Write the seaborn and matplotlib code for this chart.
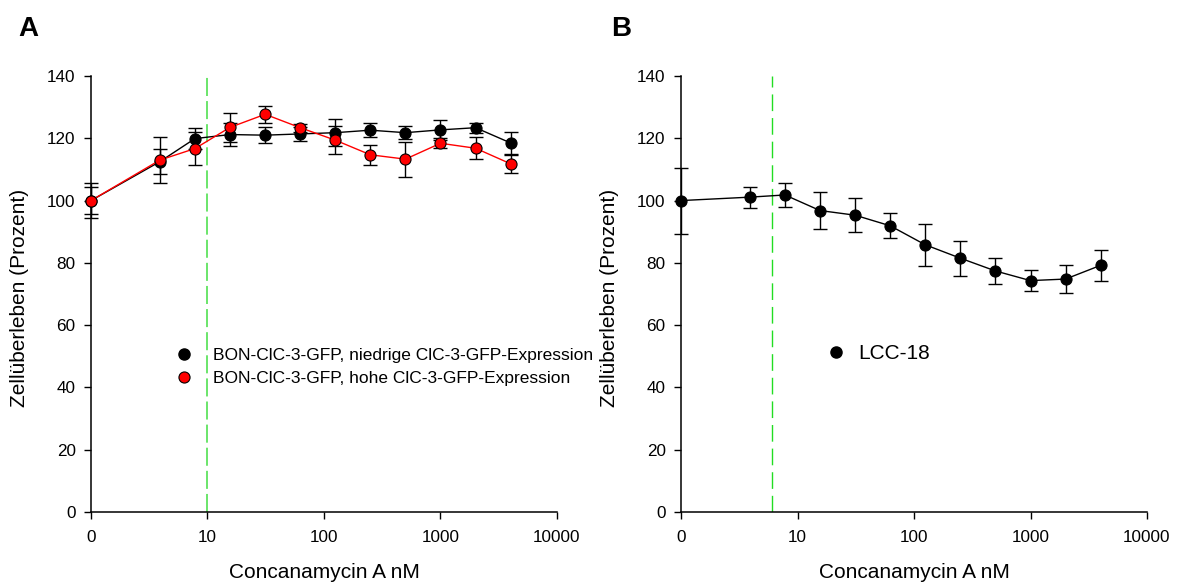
import numpy as np
import pandas as pd
import matplotlib
matplotlib.use("Agg")
import matplotlib.pyplot as plt
import seaborn as sns
from matplotlib.lines import Line2D
from matplotlib.ticker import NullLocator, FixedLocator, FixedFormatter

# ---------------- data ----------------
conc_nM = [0, 3.9, 7.8, 15.6, 31.25, 62.5, 125, 250, 500, 1000, 2000, 4000]

a_low = [100, 112.5, 119.9, 121.2, 121.0, 121.4, 121.8, 122.6, 121.8, 122.7, 123.4, 118.5]
a_low_err = [4.2, 4.0, 3.3, 3.6, 2.6, 2.2, 4.3, 2.2, 2.0, 3.2, 1.6, 3.5]
a_high = [100, 113.0, 116.7, 123.5, 127.7, 123.4, 119.4, 114.7, 113.3, 118.4, 116.8, 111.8]
a_high_err = [5.5, 7.3, 5.3, 4.7, 2.8, 1.3, 4.4, 3.3, 5.6, 1.6, 3.6, 2.8]

b_lcc = [100, 101.1, 101.8, 96.8, 95.3, 91.9, 85.8, 81.5, 77.4, 74.3, 74.8, 79.2]
b_lcc_err = [10.6, 3.4, 3.9, 5.9, 5.5, 4.0, 6.7, 5.6, 4.2, 3.3, 4.5, 5.0]

a_label_low = "BON-ClC-3-GFP, niedrige ClC-3-GFP-Expression"
a_label_high = "BON-ClC-3-GFP, hohe ClC-3-GFP-Expression"
b_label = "LCC-18"

a_threshold = 10
b_threshold = 6

x_ticks = [0, 10, 100, 1000, 10000]
x_tick_labels = ["0", "10", "100", "1000", "10000"]
y_ticks = [0, 20, 40, 60, 80, 100, 120, 140]

x_title = "Concanamycin A nM"
y_title = "Zellüberleben (Prozent)"

# ---------------- style ----------------
sns.set_style("ticks")
plt.rcParams["font.family"] = ["Liberation Sans", "DejaVu Sans"]
plt.rcParams["text.color"] = "black"
plt.rcParams["axes.labelcolor"] = "black"
plt.rcParams["xtick.color"] = "black"
plt.rcParams["ytick.color"] = "black"


def pos(c):
    """Zero concentration is drawn one decade below 10 on the log axis."""
    c = np.asarray(c, dtype=float)
    return np.where(c == 0, 1.0, c)


W, H = 1179, 584
fig = plt.figure(figsize=(W / 100, H / 100), dpi=100)
axA = fig.add_axes([91 / W, (H - 512) / H, 466 / W, 436 / H])
axB = fig.add_axes([681 / W, (H - 512) / H, 466 / W, 436 / H])

MS = 8.0


def style_axis(ax):
    ax.set_xscale("log")
    ax.set_xlim(1, 10000)
    ax.set_ylim(0, 140)
    ax.xaxis.set_major_locator(FixedLocator(list(pos(x_ticks))))
    ax.xaxis.set_major_formatter(FixedFormatter(x_tick_labels))
    ax.xaxis.set_minor_locator(NullLocator())
    ax.set_yticks(y_ticks)
    ax.set_yticklabels([str(v) for v in y_ticks])
    for s in ["top", "right"]:
        ax.spines[s].set_visible(False)
    for s in ["left", "bottom"]:
        ax.spines[s].set_linewidth(1.1)
        ax.spines[s].set_color("black")
    ax.tick_params(axis="both", direction="out", length=5, width=1.0,
                   colors="black", labelcolor="black", labelsize=12.3)
    ax.tick_params(axis="x", pad=8)
    ax.tick_params(axis="y", pad=6)
    ax.set_xlabel(x_title, fontsize=15, color="black")
    ax.set_ylabel(y_title, fontsize=15, color="black")
    ax.xaxis.set_label_coords(0.5, -0.118)
    ax.yaxis.set_label_coords(-0.133, 0.49)
    ax.set_facecolor("white")
    ax.grid(False)


def draw_series(ax, y, err, color, z):
    df = pd.DataFrame({"x": pos(conc_nM), "y": y})
    ax.errorbar(df["x"], df["y"], yerr=err, fmt="none", ecolor="black",
                elinewidth=1.0, capsize=5, capthick=1.0, zorder=z, clip_on=False)
    sns.lineplot(data=df, x="x", y="y", ax=ax, color=color, lw=1.0,
                 marker="o", markersize=MS, markerfacecolor=color,
                 markeredgecolor="black", markeredgewidth=0.8,
                 zorder=z + 1, clip_on=False, legend=False, errorbar=None)


for ax in (axA, axB):
    style_axis(ax)

# Panel A
axA.axvline(a_threshold, color="#5fe35f", lw=1.3, dashes=(10, 2.8), zorder=1)
draw_series(axA, a_low, a_low_err, "black", 3)
draw_series(axA, a_high, a_high_err, "#ff0000", 5)
hA = [Line2D([], [], ls="none", marker="o", markersize=MS, markerfacecolor="black",
             markeredgecolor="black"),
      Line2D([], [], ls="none", marker="o", markersize=MS, markerfacecolor="#ff0000",
             markeredgecolor="black", markeredgewidth=0.8)]
axA.legend(hA, [a_label_low, a_label_high], loc="upper left",
           bbox_to_anchor=(0.181, 0.376), frameon=False, fontsize=12.5,
           handlelength=1.0, handletextpad=1.15, borderpad=0, borderaxespad=0,
           labelspacing=0.42)

# Panel B
axB.axvline(b_threshold, color="#22dd22", lw=1.0, dashes=(12, 5), zorder=1)
draw_series(axB, b_lcc, b_lcc_err, "black", 3)
hB = [Line2D([], [], ls="none", marker="o", markersize=MS, markerfacecolor="black",
             markeredgecolor="black")]
axB.legend(hB, [b_label], loc="upper left", bbox_to_anchor=(0.310, 0.385),
           frameon=False, fontsize=15, handlelength=1.0, handletextpad=0.56,
           borderpad=0, borderaxespad=0)

fig.text(18 / W, 1 - 16 / H, "A", fontsize=20, fontweight="bold", va="top", ha="left")
fig.text(611 / W, 1 - 16 / H, "B", fontsize=20, fontweight="bold", va="top", ha="left")

fig.savefig("out.png", dpi=100, facecolor="white")
